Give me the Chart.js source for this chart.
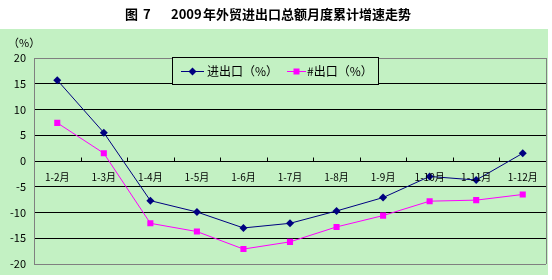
<!DOCTYPE html>
<html>
<head>
<meta charset="utf-8">
<script src="https://cdn.jsdelivr.net/npm/chart.js@4.4.0/dist/chart.umd.min.js"></script>
<style>
  html, body { margin: 0; padding: 0; background: #fff; }
  #wrap { width: 552px; height: 280px; }
</style>
</head>
<body>
<div id="wrap"><canvas id="chartArea" width="552" height="280"></canvas></div>
<script>
// 2009 外贸进出口累计增速
const months = ['1-2月', '1-3月', '1-4月', '1-5月', '1-6月', '1-7月', '1-8月', '1-9月', '1-10月', '1-11月', '1-12月'];
const totalTrade = [15.7, 5.5, -7.7, -9.9, -13.0, -12.1, -9.7, -7.1, -3.0, -3.7, 1.5];
const exportsOnly = [7.4, 1.5, -12.1, -13.7, -17.1, -15.7, -12.8, -10.6, -7.8, -7.6, -6.5];
const yTicks = [20, 15, 10, 5, 0, -5, -10, -15, -20];

const titleParts = [['图', 125], ['7', 143], ['2009', 171], ['年外贸进出口总额月度累计增速走势', 203]];
const seriesNames = ['进出口（%）', '#出口（%）'];
const font = '"Noto Sans CJK SC", "DejaVu Sans", sans-serif';

// 背景, 标题, 图例, x轴标签
const decor = {
  id: 'decor',
  beforeDraw(chart) {
    const ctx = chart.ctx;
    ctx.save();
    ctx.fillStyle = '#c3f1c3';
    ctx.fillRect(0, 29, 548, 246);
    ctx.fillStyle = '#000';
    ctx.font = 'bold 13px ' + font;
    ctx.textBaseline = 'middle';
    titleParts.forEach(p => ctx.fillText(p[0], p[1], 14));
    ctx.font = '11px ' + font;
    ctx.fillText('（%）', 8, 43);
    ctx.restore();
  },
  afterDatasetsDraw(chart) {
    const ctx = chart.ctx;
    const a = chart.chartArea;
    const x = chart.scales.x;
    const y = chart.scales.y;
    const y0 = Math.round(y.getPixelForValue(0)) + 0.5;
    ctx.save();
    // tick marks on zero line
    ctx.strokeStyle = '#000';
    ctx.lineWidth = 1;
    ctx.beginPath();
    for (let i = 1; i < months.length; i++) {
      const px = Math.round((x.getPixelForValue(i - 1) + x.getPixelForValue(i)) / 2) + 0.5;
      ctx.moveTo(px, y0);
      ctx.lineTo(px, y0 - 4);
    }
    ctx.stroke();
    // month labels
    ctx.fillStyle = '#000';
    ctx.font = '10px ' + font;
    ctx.textAlign = 'center';
    ctx.textBaseline = 'middle';
    months.forEach((m, i) => {
      ctx.fillText(m, x.getPixelForValue(i), y0 + 16);
    });
    // legend
    ctx.fillStyle = '#c3f1c3';
    ctx.fillRect(172, 57, 206, 27);
    ctx.strokeStyle = '#000';
    ctx.strokeRect(172.5, 57.5, 206, 27);
    const items = [
      { x1: 181, x2: 204, tx: 207, color: '#000080', shape: 'diamond' },
      { x1: 287, x2: 306, tx: 307, color: '#ff00ff', shape: 'square' }
    ];
    ctx.textAlign = 'left';
    ctx.font = '12px ' + font;
    items.forEach((it, i) => {
      const ly = 71.5;
      ctx.strokeStyle = it.color;
      ctx.beginPath();
      ctx.moveTo(it.x1, ly);
      ctx.lineTo(it.x2, ly);
      ctx.stroke();
      const cx = (it.x1 + it.x2) / 2;
      ctx.fillStyle = it.color;
      ctx.beginPath();
      if (it.shape === 'diamond') {
        ctx.moveTo(cx, ly - 4); ctx.lineTo(cx + 4, ly); ctx.lineTo(cx, ly + 4); ctx.lineTo(cx - 4, ly);
      } else {
        ctx.rect(cx - 3, ly - 3, 6, 6);
      }
      ctx.fill();
      ctx.fillStyle = '#000';
      ctx.fillText(seriesNames[i], it.tx, ly);
    });
    // right border
    ctx.strokeStyle = '#808080';
    ctx.beginPath();
    ctx.moveTo(Math.round(a.right) + 0.5, a.top);
    ctx.lineTo(Math.round(a.right) + 0.5, a.bottom);
    ctx.stroke();
    ctx.restore();
  }
};

new Chart(document.getElementById('chartArea'), {
  type: 'line',
  data: {
    labels: months,
    datasets: [
      {
        label: seriesNames[0],
        data: totalTrade,
        borderColor: '#000080',
        backgroundColor: '#000080',
        borderWidth: 1,
        pointStyle: 'rectRot',
        pointRadius: 4,
        pointBorderWidth: 0,
        tension: 0
      },
      {
        label: seriesNames[1],
        data: exportsOnly,
        borderColor: '#ff00ff',
        backgroundColor: '#ff00ff',
        borderWidth: 1,
        pointStyle: 'rect',
        pointRadius: 4.3,
        pointBorderWidth: 0,
        tension: 0
      }
    ]
  },
  plugins: [decor],
  options: {
    responsive: false,
    animation: false,
    layout: { padding: { top: 58, bottom: 16, right: 6, left: 0 } },
    plugins: {
      legend: { display: false },
      title: { display: false },
      tooltip: { enabled: false }
    },
    scales: {
      x: {
        offset: true,
        display: false
      },
      y: {
        min: -20,
        max: 20,
        afterFit(scale) { scale.width = 34; },
        afterBuildTicks(scale) { scale.ticks = yTicks.map(v => ({ value: v })); },
        ticks: {
          color: '#000',
          padding: 8,
          font: { family: font, size: 11 }
        },
        grid: {
          drawTicks: false,
          color: (c) => (c.tick && Math.abs(c.tick.value) === 20 ? '#808080' : '#000')
        },
        border: { display: true, color: '#808080' }
      }
    }
  }
});
</script>
</body>
</html>
